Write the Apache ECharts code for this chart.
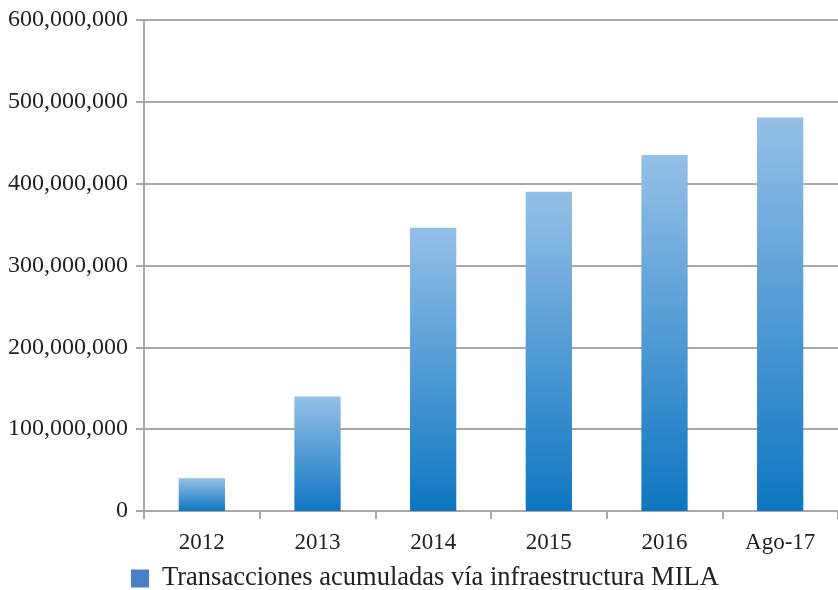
<!DOCTYPE html>
<html>
<head>
<meta charset="utf-8">
<script src="https://cdn.jsdelivr.net/npm/echarts@6/dist/echarts.min.js"></script>
<style>
  html, body { margin: 0; padding: 0; background: #fff; }
  #chart { width: 838px; height: 590px; }
</style>
</head>
<body>
<div id="chart"></div>
<script>
const categories = ['2012', '2013', '2014', '2015', '2016', 'Ago-17']
const seriesName = 'Transacciones acumuladas vía infraestructura MILA'
const transacciones = [40000000, 140000000, 346000000, 390000000, 435000000, 481000000]

const font = '"Liberation Serif", "DejaVu Serif", serif'
const gridColor = '#a8a8a8'

const chart = echarts.init(document.getElementById('chart'))
chart.setOption({
  animation: false,
  textStyle: { fontFamily: font },
  grid: { left: 144, top: 20, width: 698, height: 491 },
  legend: {
    top: 565,
    left: 131,
    padding: 0,
    icon: 'rect',
    itemWidth: 18,
    itemHeight: 18,
    itemGap: 10,
    textStyle: { fontFamily: font, fontSize: 26.5, color: '#222', padding: [0, 0, 0, 8] },
    data: [{ name: seriesName, itemStyle: { color: '#4a7fc7' } }]
  },
  xAxis: {
    type: 'category',
    data: categories,
    axisLine: { lineStyle: { color: gridColor, width: 2 } },
    axisTick: { show: true, length: 8, lineStyle: { color: gridColor, width: 2 } },
    axisLabel: { fontFamily: font, fontSize: 23, color: '#222', margin: 20 }
  },
  yAxis: {
    type: 'value',
    min: 0,
    max: 600000000,
    interval: 100000000,
    axisLine: { show: true, lineStyle: { color: gridColor, width: 2 } },
    axisTick: { show: true, length: 8, lineStyle: { color: gridColor, width: 2 } },
    splitLine: { lineStyle: { color: gridColor, width: 2 } },
    axisLabel: {
      fontFamily: font,
      fontSize: 24,
      color: '#222',
      margin: 16,
      formatter: v => v.toLocaleString('en-US')
    }
  },
  series: [{
    name: seriesName,
    type: 'bar',
    barWidth: '40%',
    data: transacciones,
    itemStyle: {
      color: new echarts.graphic.LinearGradient(0, 0, 0, 1, [
        { offset: 0, color: '#95c0e7' },
        { offset: 1, color: '#0e76c1' }
      ])
    }
  }]
})
</script>
</body>
</html>
